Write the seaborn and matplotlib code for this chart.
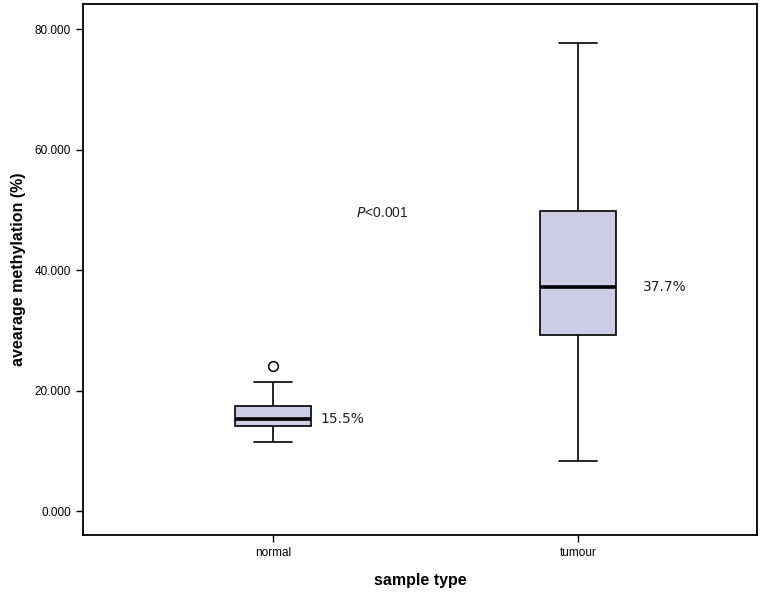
import numpy as np
import pandas as pd
import seaborn as sns
import matplotlib.pyplot as plt

# values (min, q1, median, q3, max + outliers)
groups = ["normal", "tumour"]
normal_vals = [11.4, 13.2, 14.1, 14.8, 15.3, 16.3, 17.4, 21.4, 24.1]
tumour_vals = [8.4, 20.0, 29.3, 33.0, 37.2, 44.0, 49.9, 63.0, 77.7]
median_labels = ["15.5%", "37.7%"]
p_text = "P<0.001"
y_ticks = [0, 20, 40, 60, 80]

df = pd.DataFrame({
    "sample type": ["normal"] * len(normal_vals) + ["tumour"] * len(tumour_vals),
    "value": normal_vals + tumour_vals,
})

sns.set_theme(style="white")
plt.rcParams["font.family"] = ["Liberation Sans", "DejaVu Sans"]
plt.rcParams["text.color"] = "black"
plt.rcParams["axes.labelcolor"] = "black"
plt.rcParams["xtick.color"] = "black"
plt.rcParams["ytick.color"] = "black"

fig = plt.figure(figsize=(7.6, 5.96), dpi=100)
ax = fig.add_axes([0.109, 0.102, 0.887, 0.891])

sns.boxplot(data=df, x="sample type", y="value", order=groups, ax=ax,
            color="#cdcde6", width=0.25, linecolor="black", linewidth=1.2,
            saturation=1, whis=1.5,
            medianprops=dict(linewidth=2.6, color="black"),
            flierprops=dict(marker="o", markersize=7, markerfacecolor="white",
                            markeredgecolor="black", markeredgewidth=1.1))

ax.set_xlim(-0.623, 1.587)
ax.set_ylim(-4.0, 84.2)
ax.set_yticks(y_ticks)
ax.set_yticklabels([f"{v:.3f}" for v in y_ticks], fontsize=8.5)
ax.set_xticks(range(len(groups)))
ax.set_xticklabels(groups, fontsize=8.5)
ax.tick_params(axis="both", which="both", direction="out", length=5,
               width=1, color="black", labelcolor="black", left=True, bottom=True)

for sp in ax.spines.values():
    sp.set_color("black")
    sp.set_linewidth(1.3)

ax.set_xlabel("sample type", fontsize=11.5, fontweight="bold", labelpad=10)
ax.set_ylabel("avearage methylation (%)", fontsize=11.5, fontweight="bold", labelpad=6)

# annotations
medians = [np.median(normal_vals), np.median(tumour_vals)]
ax.text(0.157, medians[0], median_labels[0], fontsize=10, va="center",
        family=["DejaVu Sans"], color="#222222")
ax.text(1.213, medians[1], median_labels[1], fontsize=10, va="center",
        family=["DejaVu Sans"], color="#222222")
ax.text(0.357, 49.5, r"$\it{P}$" + p_text[1:], fontsize=10, ha="center",
        va="center", color="#222222")

fig.savefig("out.png", dpi=100)
